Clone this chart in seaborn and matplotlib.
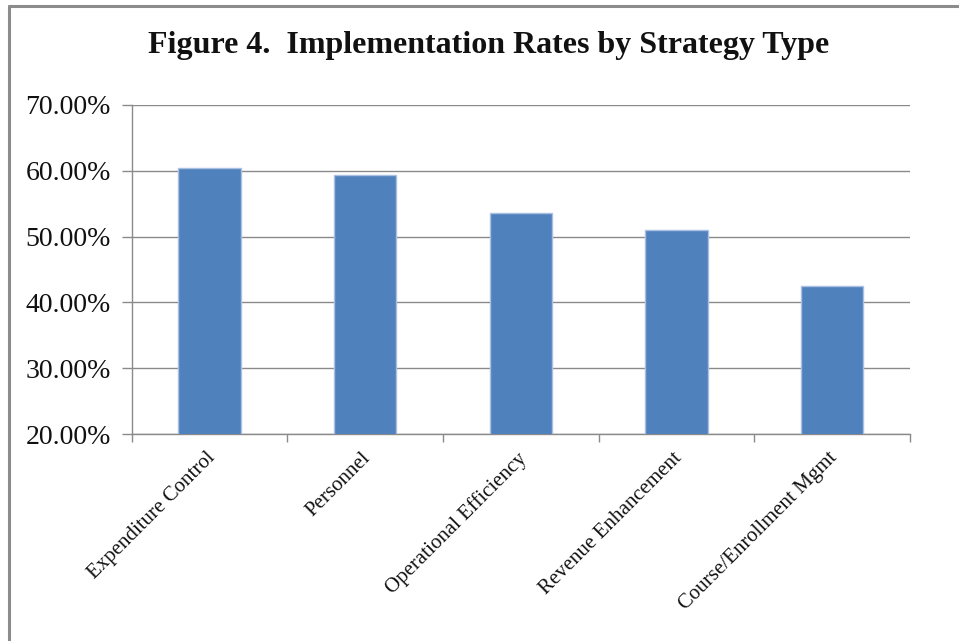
import matplotlib
matplotlib.use("Agg")
import matplotlib.pyplot as plt
from matplotlib.lines import Line2D
from matplotlib.ticker import FuncFormatter, FixedLocator
import seaborn as sns
import pandas as pd

# Implementation rate (%) for each strategy type
strategies = [
    "Expenditure Control",
    "Personnel",
    "Operational Efficiency",
    "Revenue Enhancement",
    "Course/Enrollment Mgmt",
]
rates = [60.45, 59.3, 53.65, 51.07, 42.5]
y_ticks = [20, 30, 40, 50, 60, 70]

title = "Figure 4.  Implementation Rates by Strategy Type"

df = pd.DataFrame({"strategy": strategies, "rate": rates})

sns.set_theme(style="white")
plt.rcParams["font.family"] = ["Liberation Serif", "DejaVu Serif"]

W, H, DPI = 959, 641, 100
fig = plt.figure(figsize=(W / DPI, H / DPI), dpi=DPI)
fig.patch.set_facecolor("white")
ax = fig.add_axes([131.7 / W, 1 - 434 / H, (910 - 131.7) / W, (434 - 105) / H])

sns.barplot(data=df, x="strategy", y="rate", color="#4F81BD", width=0.4,
            saturation=1, edgecolor="#A9C0E0", linewidth=1.0, ax=ax, zorder=3)

ax.set_ylim(20, 70)
ax.set_xlim(-0.5, len(strategies) - 0.5)
ax.set_yticks(y_ticks)
ax.yaxis.set_major_formatter(FuncFormatter(lambda v, _: f"{v:.2f}%"))
ax.grid(axis="y", color="#8a8a8a", linewidth=1.0, zorder=0)
ax.set_axisbelow(True)

ax.set_xlabel("")
ax.set_ylabel("")

for side in ("top", "right"):
    ax.spines[side].set_visible(False)
for side in ("left", "bottom"):
    ax.spines[side].set_color("#8a8a8a")
    ax.spines[side].set_linewidth(1.0)

ax.tick_params(axis="y", which="major", direction="out", length=7, width=1,
               color="#8a8a8a", labelsize=20, pad=8, left=True, labelcolor="#111111")
ax.tick_params(axis="x", which="major", length=0, labelsize=15, pad=2, labelcolor="#111111")
ax.xaxis.set_minor_locator(FixedLocator([i - 0.5 for i in range(len(strategies) + 1)]))
ax.tick_params(axis="x", which="minor", direction="out", length=6, width=1,
               color="#8a8a8a", bottom=True)

ax.set_xticks(range(len(strategies)))
ax.set_xticklabels(strategies, rotation=45, ha="right", rotation_mode="anchor")
for lbl in ax.get_xticklabels():
    lbl.set_transform(lbl.get_transform() + matplotlib.transforms.ScaledTranslation(-4 / DPI, -12 / DPI, fig.dpi_scale_trans))

fig.text(489 / W, 1 - 46 / H, title, ha="center", va="center",
         fontsize=23, fontweight="bold", color="#111111")

# Frame lines along the top and left edge of the figure
frame_kw = dict(color="#8c8c8c", linewidth=2.2, transform=fig.transFigure)
fig.add_artist(Line2D([9 / W, 9 / W], [0, 1 - 6 / H], **frame_kw))
fig.add_artist(Line2D([9 / W, 1], [1 - 6 / H, 1 - 6 / H], **frame_kw))

fig.savefig("out.png", dpi=DPI, facecolor="white")
